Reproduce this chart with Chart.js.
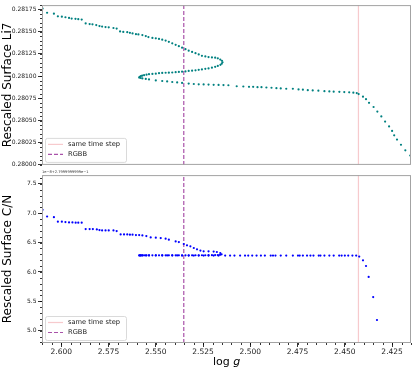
<!DOCTYPE html>
<html>
<head>
<meta charset="utf-8">
<script src="https://cdn.jsdelivr.net/npm/chart.js@4.4.0/dist/chart.umd.min.js"></script>
<style>
  body { margin: 0; background: #fff; }
  #wrap { position: relative; width: 415px; height: 368px; }
  canvas { position: absolute; left: 0; }
  #li-chart { top: 0; }
  #cn-chart { top: 170px; }
</style>
</head>
<body>
<div id="wrap">
  <canvas id="li-chart" width="415" height="170"></canvas>
  <canvas id="cn-chart" width="415" height="198"></canvas>
</div>
<script>
// surface Li7 vs log g (top panel)
const liLogg = [
  2.6099, 2.6075, 2.6039, 2.6018, 2.5997, 2.5978, 2.5959, 2.5945, 2.5925, 2.5910, 2.5892, 2.5871, 2.5850, 2.5835, 2.5815, 2.5798,
  2.5784, 2.5766, 2.5749, 2.5724, 2.5707, 2.5689, 2.5672, 2.5651, 2.5637, 2.5623, 2.5605, 2.5592, 2.5571, 2.5553, 2.5539,
  2.5518, 2.5500, 2.5483, 2.5466, 2.5448, 2.5431, 2.5413, 2.5395, 2.5378, 2.5361, 2.5343, 2.5326, 2.5308, 2.5290, 2.5273, 2.5256,
  2.5238, 2.5221, 2.5203, 2.5186, 2.5172, 2.5159, 2.5150, 2.5147,
  2.5151, 2.5158, 2.5172, 2.5186, 2.5203, 2.5221, 2.5238, 2.5256, 2.5273, 2.5290, 2.5308, 2.5326, 2.5343, 2.5361, 2.5378, 2.5395,
  2.5413, 2.5431, 2.5448, 2.5466, 2.5483, 2.5500, 2.5518, 2.5536, 2.5549, 2.5562, 2.5572, 2.5579, 2.5585, 2.5588,
  2.5580, 2.5571, 2.5553, 2.5536, 2.5500, 2.5466, 2.5440, 2.5413, 2.5387, 2.5361, 2.5326, 2.5299, 2.5273, 2.5247, 2.5221, 2.5194,
  2.5168, 2.5142, 2.5116,
  2.5072, 2.5037, 2.5007, 2.4985, 2.4962, 2.4941, 2.4915, 2.4888, 2.4862, 2.4839, 2.4810, 2.4775, 2.4745, 2.4722, 2.4696, 2.4670,
  2.4640, 2.4608, 2.4582, 2.4559, 2.4529, 2.4503, 2.4477, 2.4455, 2.4437,
  2.4427, 2.4404, 2.4388, 2.4372, 2.4348, 2.4328, 2.4307, 2.4287, 2.4266, 2.4250, 2.4239, 2.4224, 2.4203, 2.4180, 2.4154
];
const liValues = [
  0.281761, 0.281714, 0.281703, 0.281673, 0.281670, 0.281663, 0.281656, 0.281648, 0.281645, 0.281641, 0.281637, 0.281594, 0.281586, 0.281583, 0.281575, 0.281564,
  0.281558, 0.281553, 0.281550, 0.281542, 0.281536, 0.281503, 0.281498, 0.281495, 0.281488, 0.281481, 0.281473, 0.281470, 0.281462, 0.281451, 0.281440,
  0.281430, 0.281426, 0.281419, 0.281411, 0.281400, 0.281386, 0.281369, 0.281353, 0.281337, 0.281320, 0.281304, 0.281287, 0.281273, 0.281258, 0.281244, 0.281229,
  0.281222, 0.281214, 0.281211, 0.281208, 0.281200, 0.281186, 0.281173, 0.281156,
  0.281140, 0.281127, 0.281115, 0.281105, 0.281095, 0.281087, 0.281082, 0.281076, 0.281071, 0.281065, 0.281061, 0.281058, 0.281053, 0.281050, 0.281047, 0.281044,
  0.281041, 0.281039, 0.281038, 0.281036, 0.281033, 0.281028, 0.281025, 0.281022, 0.281016, 0.281011, 0.281005, 0.281000, 0.280992, 0.280984,
  0.280979, 0.280974, 0.280968, 0.280963, 0.280952, 0.280945, 0.280940, 0.280934, 0.280929, 0.280923, 0.280916, 0.280911, 0.280908, 0.280906, 0.280905, 0.280902,
  0.280901, 0.280899, 0.280897,
  0.280886, 0.280883, 0.280879, 0.280879, 0.280875, 0.280875, 0.280872, 0.280869, 0.280864, 0.280861, 0.280858, 0.280858, 0.280850, 0.280847, 0.280842, 0.280839,
  0.280836, 0.280831, 0.280828, 0.280825, 0.280823, 0.280820, 0.280817, 0.280814, 0.280809,
  0.280798, 0.280768, 0.280740, 0.280699, 0.280652, 0.280601, 0.280546, 0.280488, 0.280433, 0.280383, 0.280333, 0.280285, 0.280227, 0.280164, 0.280106
];

// surface C/N vs log g (bottom panel)
const cnLogg = [
  2.6099, 2.6075, 2.6039, 2.6018, 2.5997, 2.5978, 2.5959, 2.5941, 2.5924, 2.5910, 2.5892, 2.5871, 2.5850, 2.5833, 2.5812, 2.5798,
  2.5784, 2.5766, 2.5749, 2.5724, 2.5707, 2.5686, 2.5668, 2.5651, 2.5637, 2.5623, 2.5605, 2.5588, 2.5571, 2.5550,
  2.5527, 2.5500, 2.5474, 2.5448, 2.5431, 2.5395, 2.5378, 2.5352, 2.5335, 2.5317, 2.5299, 2.5282, 2.5264, 2.5247, 2.5221, 2.5194,
  2.5177, 2.5159,
  2.5152, 2.5160, 2.5172, 2.5186, 2.5203, 2.5221, 2.5238, 2.5256, 2.5273, 2.5290, 2.5308, 2.5326, 2.5343, 2.5361, 2.5378, 2.5395,
  2.5413, 2.5431, 2.5448, 2.5466, 2.5483, 2.5500, 2.5518, 2.5536, 2.5549, 2.5562, 2.5572, 2.5579, 2.5585, 2.5588,
  2.5580, 2.5571, 2.5553, 2.5536, 2.5500, 2.5466, 2.5440, 2.5413, 2.5387, 2.5361, 2.5326, 2.5299, 2.5273, 2.5247, 2.5221, 2.5194,
  2.5168, 2.5133, 2.5107, 2.5084, 2.5054, 2.5028, 2.5011, 2.4990, 2.4967, 2.4944, 2.4923, 2.4892, 2.4880, 2.4867, 2.4839, 2.4810,
  2.4775, 2.4748, 2.4739, 2.4722, 2.4700, 2.4682, 2.4666, 2.4638, 2.4629, 2.4608, 2.4582, 2.4559, 2.4530, 2.4517, 2.4500, 2.4482,
  2.4460, 2.4440,
  2.4424, 2.4404, 2.4388, 2.4374, 2.4350, 2.4330
];
const cnValues = [
  7.059, 6.945, 6.934, 6.856, 6.856, 6.849, 6.844, 6.844, 6.839, 6.839, 6.839, 6.730, 6.730, 6.730, 6.725, 6.713,
  6.708, 6.708, 6.708, 6.708, 6.696, 6.640, 6.640, 6.640, 6.635, 6.635, 6.628, 6.628, 6.623, 6.611,
  6.589, 6.584, 6.577, 6.567, 6.550, 6.521, 6.510, 6.476, 6.454, 6.437, 6.408, 6.386, 6.364, 6.352, 6.352, 6.347,
  6.340, 6.323,
  6.300, 6.292, 6.288, 6.287, 6.286, 6.286, 6.285, 6.285, 6.285, 6.285, 6.284, 6.284, 6.284, 6.284, 6.284, 6.284,
  6.284, 6.284, 6.284, 6.283, 6.283, 6.283, 6.283, 6.283, 6.283, 6.283, 6.283, 6.282, 6.282, 6.282,
  6.281, 6.281, 6.281, 6.281, 6.281, 6.281, 6.281, 6.281, 6.281, 6.280, 6.280, 6.280, 6.280, 6.280, 6.280, 6.280,
  6.280, 6.280, 6.280, 6.280, 6.280, 6.280, 6.280, 6.280, 6.280, 6.280, 6.280, 6.279, 6.279, 6.279, 6.279, 6.279,
  6.279, 6.279, 6.279, 6.279, 6.279, 6.279, 6.279, 6.279, 6.279, 6.279, 6.279, 6.279, 6.279, 6.279, 6.279, 6.279,
  6.279, 6.279,
  6.262, 6.199, 6.102, 5.916, 5.572, 5.182
];

// reference lines
const sameTimeStepLogg = 2.4428;
const rgbbLogg = 2.5352;

// axes
const loggRange = [2.4150, 2.6102];
const liRange = [0.28000, 0.28180];
const cnRange = [4.79, 7.65];
const loggTicks = [2.600, 2.575, 2.550, 2.525, 2.500, 2.475, 2.450, 2.425];
const liTicks = [0.28000, 0.28025, 0.28050, 0.28075, 0.28100, 0.28125, 0.28150, 0.28175];
const cnTicks = [5.0, 5.5, 6.0, 6.5, 7.0, 7.5];

const FONT = "DejaVu Sans";
const pink = "rgba(246, 196, 200, 0.9)";
const purple = "rgba(128, 0, 128, 0.68)";

function pts(xs, ys) {
  return xs.map((x, i) => ({ x: x, y: ys[i] }));
}

function vline(label, x, range, color, dash) {
  return {
    type: "line",
    label: label,
    data: [{ x: x, y: range[0] }, { x: x, y: range[1] }],
    borderColor: color,
    borderWidth: 1.2,
    borderDash: dash,
    pointRadius: 0,
    fill: false,
  };
}

// frame, minor ticks and an in-axes legend, matplotlib style
const decor = {
  id: "decor",
  afterDraw(chart, args, o) {
    const { ctx, chartArea: a, scales } = chart;
    ctx.save();
    ctx.strokeStyle = "#a3a3a3";
    ctx.lineWidth = 1;
    ctx.strokeRect(a.left + 0.5, a.top + 0.5, a.right - a.left - 1, a.bottom - a.top - 1);

    ctx.strokeStyle = "#000";
    ctx.lineWidth = 0.8;
    const y = scales.y;
    for (let k = Math.ceil(y.min / o.yMinor - 1e-6); k * o.yMinor <= y.max + 1e-9; k++) {
      const py = Math.round(y.getPixelForValue(k * o.yMinor)) + 0.5;
      ctx.beginPath();
      ctx.moveTo(a.left - 2, py);
      ctx.lineTo(a.left, py);
      ctx.stroke();
    }
    if (o.xMinor) {
      const x = scales.x;
      for (let k = Math.ceil(x.min / o.xMinor - 1e-6); k * o.xMinor <= x.max + 1e-9; k++) {
        const px = Math.round(x.getPixelForValue(k * o.xMinor)) + 0.5;
        ctx.beginPath();
        ctx.moveTo(px, a.bottom);
        ctx.lineTo(px, a.bottom + 2);
        ctx.stroke();
      }
    }

    // legend box
    const bx = a.left + 3, bw = 81, bh = 24, by = a.bottom - bh - 3;
    ctx.fillStyle = "rgba(255,255,255,0.8)";
    ctx.strokeStyle = "#d0d0d0";
    ctx.lineWidth = 0.8;
    ctx.beginPath();
    ctx.roundRect(bx + 0.5, by + 0.5, bw, bh, 2);
    ctx.fill();
    ctx.stroke();
    ctx.font = "6.7px '" + FONT + "'";
    ctx.textBaseline = "middle";
    const items = chart.data.datasets.filter((d) => d.type === "line");
    items.forEach((d, i) => {
      const ly = by + 6.5 + i * 10;
      ctx.strokeStyle = d.borderColor;
      ctx.lineWidth = 1.2;
      ctx.setLineDash(d.borderDash || []);
      ctx.beginPath();
      ctx.moveTo(bx + 3, ly);
      ctx.lineTo(bx + 18, ly);
      ctx.stroke();
      ctx.setLineDash([]);
      ctx.fillStyle = "#222";
      ctx.fillText(d.label, bx + 23, ly);
    });

    if (o.xTitle) {
      const cx = (a.left + a.right) / 2;
      const ty = chart.height - 3;
      ctx.fillStyle = "#000";
      ctx.textBaseline = "alphabetic";
      ctx.font = "11px '" + FONT + "'";
      const w1 = ctx.measureText("log ").width;
      ctx.font = "italic 11px '" + FONT + "'";
      const w2 = ctx.measureText("g").width;
      const sx = cx - (w1 + w2) / 2;
      ctx.font = "11px '" + FONT + "'";
      ctx.fillText("log", sx, ty);
      ctx.font = "italic 11px '" + FONT + "'";
      ctx.fillText("g", sx + w1, ty);
    }
    if (o.offsetText) {
      ctx.fillStyle = "#333";
      ctx.font = "3.6px '" + FONT + "'";
      ctx.textBaseline = "middle";
      ctx.fillText(o.offsetText, a.left, 2);
    }
    ctx.restore();
  },
};

function yAxis(title, ticks, range, digits) {
  return {
    type: "linear",
    min: range[0],
    max: range[1],
    afterBuildTicks: (s) => { s.ticks = ticks.map((v) => ({ value: v })); },
    afterFit: (s) => { s.width = 42; },
    ticks: {
      callback: (v) => Number(v).toFixed(digits),
      font: { family: FONT, size: 6 },
      color: "#222",
      padding: 1.5,
    },
    grid: { drawOnChartArea: false, drawTicks: true, tickLength: 4, tickColor: "#000", tickWidth: 0.8 },
    border: { display: false },
    title: {
      display: true,
      text: title,
      font: { family: FONT, size: 12 },
      color: "#000",
      padding: { top: 1, bottom: 0 },
    },
  };
}

new Chart(document.getElementById("li-chart"), {
  type: "scatter",
  data: {
    datasets: [
      {
        label: "Li7",
        data: pts(liLogg, liValues),
        backgroundColor: "#008080",
        borderWidth: 0,
        pointRadius: 1.1,
      },
      vline("same time step", sameTimeStepLogg, liRange, pink, []),
      vline("RGBB", rgbbLogg, liRange, purple, [4, 2]),
    ],
  },
  options: {
    responsive: false,
    animation: false,
    devicePixelRatio: 1,
    layout: { padding: { top: 1, right: 1, bottom: 4, left: 0 } },
    plugins: {
      legend: { display: false },
      tooltip: { enabled: false },
      decor: { yMinor: 0.00005 },
    },
    scales: {
      x: { type: "linear", reverse: true, min: loggRange[0], max: loggRange[1], display: false },
      y: yAxis("Rescaled Surface Li7", liTicks, liRange, 5),
    },
  },
  plugins: [decor],
});

new Chart(document.getElementById("cn-chart"), {
  type: "scatter",
  data: {
    datasets: [
      {
        label: "C/N",
        data: pts(cnLogg, cnValues),
        backgroundColor: "#0000ff",
        borderWidth: 0,
        pointRadius: 1.1,
      },
      vline("same time step", sameTimeStepLogg, cnRange, pink, []),
      vline("RGBB", rgbbLogg, cnRange, purple, [4, 2]),
    ],
  },
  options: {
    responsive: false,
    animation: false,
    devicePixelRatio: 1,
    layout: { padding: { top: 4, right: 1, bottom: 0, left: 0 } },
    plugins: {
      legend: { display: false },
      tooltip: { enabled: false },
      decor: { yMinor: 0.1, xMinor: 0.005, xTitle: true, offsetText: "1e\u22128+2.7999999999e\u22121" },
    },
    scales: {
      x: {
        type: "linear",
        reverse: true,
        min: loggRange[0],
        max: loggRange[1],
        afterBuildTicks: (s) => { s.ticks = loggTicks.map((v) => ({ value: v })); },
        afterFit: (s) => { s.height = 25; },
        ticks: {
          callback: (v) => Number(v).toFixed(3),
          font: { family: FONT, size: 7.5 },
          color: "#222",
          padding: 1,
          maxRotation: 0,
        },
        grid: { drawOnChartArea: false, drawTicks: true, tickLength: 4, tickColor: "#000", tickWidth: 0.8 },
        border: { display: false },
      },
      y: yAxis("Rescaled Surface C/N", cnTicks, cnRange, 1),
    },
  },
  plugins: [decor],
});
</script>
</body>
</html>
